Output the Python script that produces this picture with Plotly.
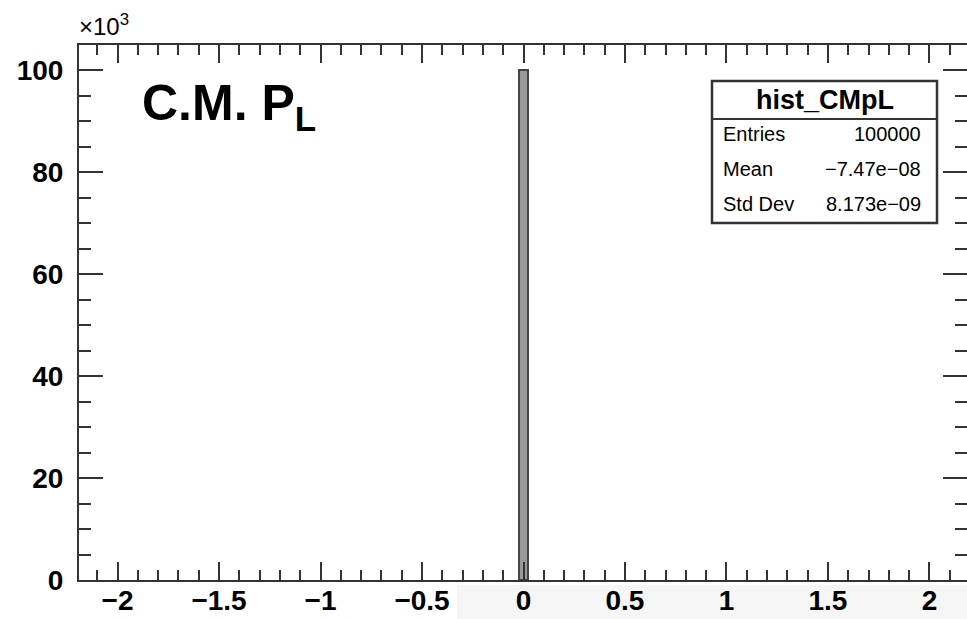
import plotly.graph_objects as go

# Histogram content: one filled bin at zero
bin_centers = [0.0]
bin_counts = [100000]
bin_width = 0.045

# Axis ticks (y labels shown in units of 10^3)
y_tickvals = [0, 20000, 40000, 60000, 80000, 100000]
y_ticktext = ["0", "20", "40", "60", "80", "100"]
x_tickvals = [-2, -1.5, -1, -0.5, 0, 0.5, 1, 1.5, 2]

# Statistics box
stats_name = "hist_CMpL"
stats_labels = ["Entries", "Mean", "Std Dev"]
stats_values = ["100000", "\u22127.47e\u221208", "8.173e\u221209"]

W, H = 967, 619
L, R, T, B = 79, 967, 45, 580  # plot-area pixel bounds
XR = [-2.19, 2.185]
YR = [0, 105000]


def px(xp):
    return (xp - L) / (R - L)


def py(yp):
    return (B - yp) / (B - T)


axis_col = "#333333"
font_main = "Liberation Sans, Arial, sans-serif"

fig = go.Figure()
fig.add_trace(go.Bar(
    x=bin_centers, y=bin_counts, width=bin_width,
    marker=dict(color="#999999", line=dict(color="#444444", width=2)),
    showlegend=False, hoverinfo="skip",
))
# invisible trace anchoring the mirrored top/right axes
fig.add_trace(go.Scatter(x=[0], y=[0], xaxis="x2", yaxis="y2",
                         mode="markers", marker=dict(opacity=0),
                         showlegend=False, hoverinfo="skip"))

common_tick = dict(ticks="inside", tickcolor=axis_col, tickwidth=2)

fig.update_layout(
    width=W, height=H,
    margin=dict(l=L, r=W - R, t=T, b=H - B, autoexpand=False),
    paper_bgcolor="white", plot_bgcolor="white",
    bargap=0,
    xaxis=dict(
        range=XR, tickmode="array", tickvals=x_tickvals,
        ticklen=18, **common_tick,
        minor=dict(dtick=0.1, tick0=0, ticklen=10, ticks="inside",
                   tickcolor=axis_col, tickwidth=2),
        showline=True, linecolor=axis_col, linewidth=2,
        showgrid=False, zeroline=False, automargin=False,
        tickfont=dict(family=font_main, size=28, color="black", weight="bold"),
        ticklabelstandoff=-6,
    ),
    yaxis=dict(
        range=YR, tickmode="array", tickvals=y_tickvals, ticktext=y_ticktext,
        ticklen=24, **common_tick,
        minor=dict(dtick=5000, tick0=0, ticklen=12, ticks="inside",
                   tickcolor=axis_col, tickwidth=2),
        showline=True, linecolor=axis_col, linewidth=2,
        showgrid=False, zeroline=False, automargin=False,
        tickfont=dict(family=font_main, size=28, color="black", weight="bold"),
        ticklabelstandoff=8,
    ),
    xaxis2=dict(
        overlaying="x", side="top", matches="x", range=XR,
        tickmode="array", tickvals=x_tickvals, ticklen=18, **common_tick,
        minor=dict(dtick=0.1, tick0=0, ticklen=10, ticks="inside",
                   tickcolor=axis_col, tickwidth=2),
        showticklabels=False, showline=True, linecolor=axis_col, linewidth=2,
        showgrid=False, zeroline=False, automargin=False,
    ),
    yaxis2=dict(
        overlaying="y", side="right", matches="y", range=YR,
        tickmode="array", tickvals=y_tickvals, ticklen=24, **common_tick,
        minor=dict(dtick=5000, tick0=0, ticklen=12, ticks="inside",
                   tickcolor=axis_col, tickwidth=2),
        showticklabels=False, showline=False,
        showgrid=False, zeroline=False, automargin=False,
    ),
)

shapes = []
# faint band under the right part of the x labels
shapes.append(dict(type="rect", xref="paper", yref="paper",
                   x0=px(457), x1=1.0, y0=py(585), y1=py(H),
                   fillcolor="#f6f6f6", line=dict(width=0), layer="below"))
# statistics box
shapes.append(dict(type="rect", xref="paper", yref="paper",
                   x0=px(712), x1=px(937), y0=py(223), y1=py(81),
                   fillcolor="white", line=dict(color="#333333", width=2.5)))
shapes.append(dict(type="line", xref="paper", yref="paper",
                   x0=px(712), x1=px(937), y0=py(119), y1=py(119),
                   line=dict(color="#333333", width=2)))
fig.update_layout(shapes=shapes)

ann = []
ann.append(dict(text="C.M. P<sub>L</sub>", xref="paper", yref="paper",
                x=px(140), y=py(140), xanchor="left", yanchor="bottom",
                showarrow=False,
                font=dict(family=font_main, size=50, color="black", weight="bold")))
ann.append(dict(text="\u00d710<sup>3</sup>", xref="paper", yref="paper",
                x=px(77), y=py(42), xanchor="left", yanchor="bottom",
                showarrow=False,
                font=dict(family=font_main, size=24, color="black")))
ann.append(dict(text=stats_name, xref="paper", yref="paper",
                x=px(824.5), y=py(100), xanchor="center", yanchor="middle",
                showarrow=False,
                font=dict(family=font_main, size=27, color="black", weight="bold")))
for i, (lab, val) in enumerate(zip(stats_labels, stats_values)):
    yc = 134 + 35 * i
    ann.append(dict(text=lab, xref="paper", yref="paper",
                    x=px(721), y=py(yc), xanchor="left", yanchor="middle",
                    showarrow=False,
                    font=dict(family=font_main, size=20, color="black")))
    ann.append(dict(text=val, xref="paper", yref="paper",
                    x=px(923), y=py(yc), xanchor="right", yanchor="middle",
                    showarrow=False,
                    font=dict(family=font_main, size=20, color="black")))
fig.update_layout(annotations=ann)

fig.write_html("out.html")
